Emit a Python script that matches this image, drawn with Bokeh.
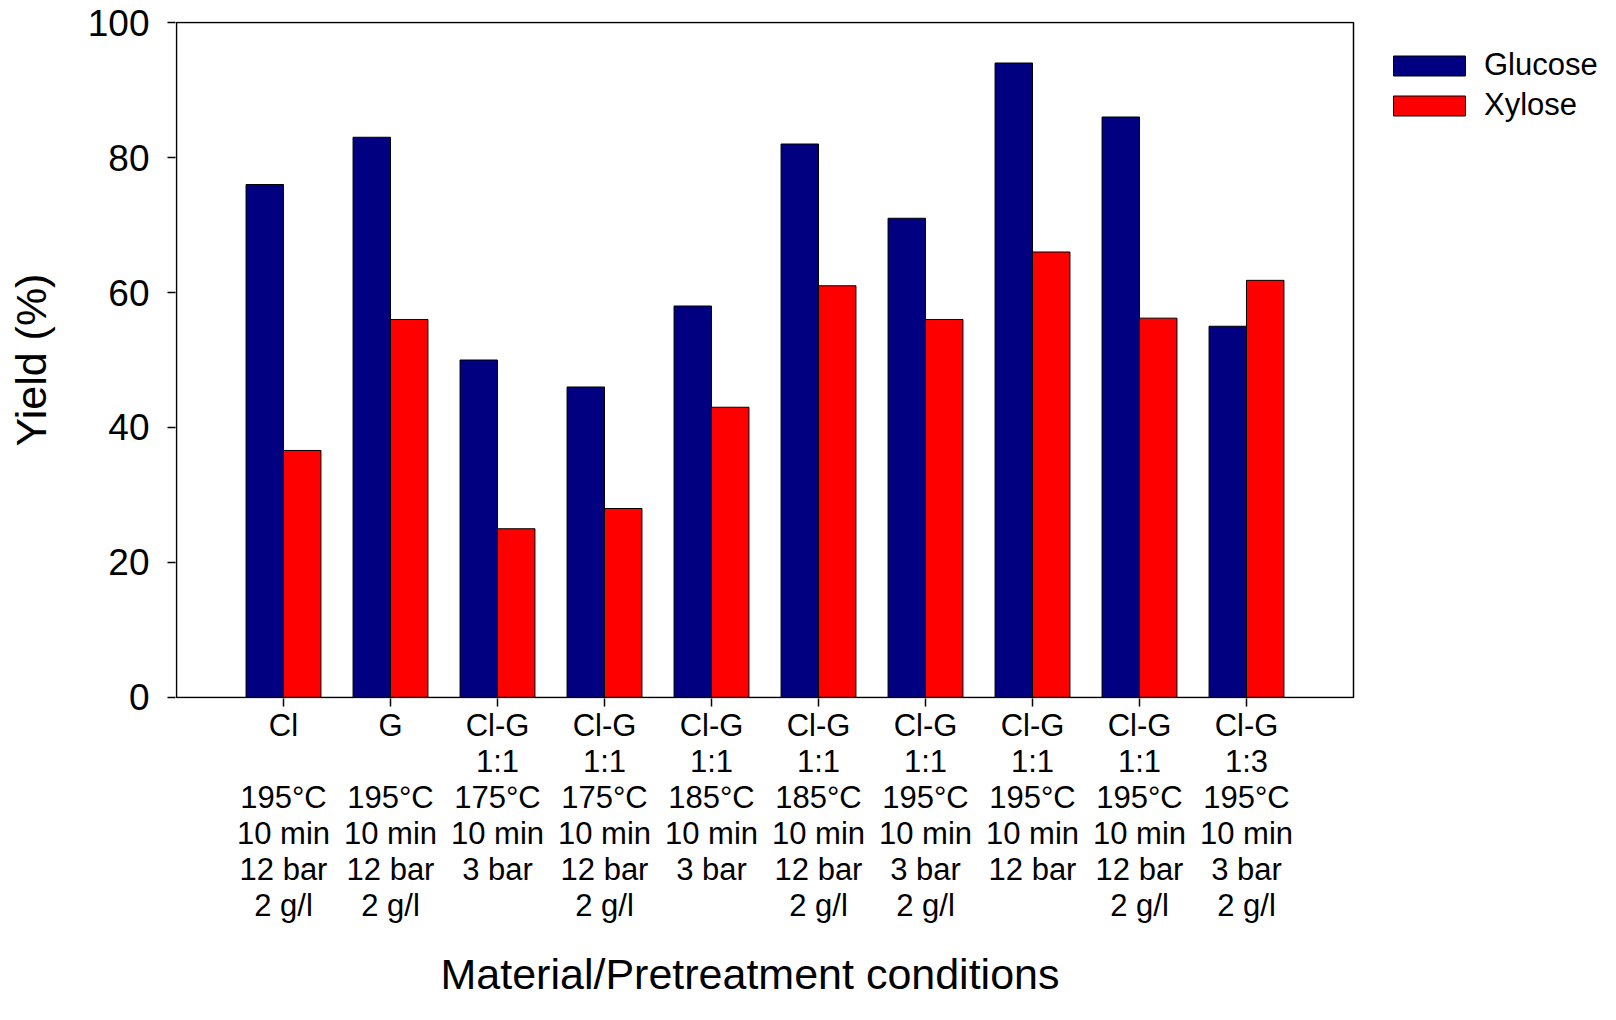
from bokeh.plotting import figure
from bokeh.models import FixedTicker, Legend, LegendItem, ColumnDataSource, Title
from bokeh.embed import file_html
from bokeh.resources import INLINE

categories = [
    "Cl\n \n195°C\n10 min\n12 bar\n2 g/l",
    "G\n \n195°C\n10 min\n12 bar\n2 g/l",
    "Cl-G\n1:1\n175°C\n10 min\n3 bar",
    "Cl-G\n1:1\n175°C\n10 min\n12 bar\n2 g/l",
    "Cl-G\n1:1\n185°C\n10 min\n3 bar",
    "Cl-G\n1:1\n185°C\n10 min\n12 bar\n2 g/l",
    "Cl-G\n1:1\n195°C\n10 min\n3 bar\n2 g/l",
    "Cl-G\n1:1\n195°C\n10 min\n12 bar",
    "Cl-G\n1:1\n195°C\n10 min\n12 bar\n2 g/l",
    "Cl-G\n1:3\n195°C\n10 min\n3 bar\n2 g/l",
]
glucose = [76, 83, 50, 46, 58, 82, 71, 94, 86, 55]
xylose = [36.6, 56, 25, 28, 43, 61, 56, 66, 56.2, 61.8]
y_ticks = [0, 20, 40, 60, 80, 100]
x_title = "Material/Pretreatment conditions"
y_title = "Yield (%)"

FONT = "Liberation Sans"
n = len(categories)
centers = list(range(1, n + 1))
bw = 0.35

# layout: the data box spans 1177 px for n+1 units; the frame extends right to hold the legend
W, H = 1616, 1020
left_b, top_b, bottom_b = 175, 21, 322
frame_w = W - left_b
ppu = 1177 / (n + 1)
x0 = -1 / ppu
x_range = (x0, x0 + frame_w / ppu)
y_range = (-0.15, 100.15)

p = figure(width=W, height=H, output_backend="svg", toolbar_location=None,
           x_range=x_range, y_range=y_range,
           min_border_left=left_b, min_border_right=0, min_border_top=top_b, min_border_bottom=bottom_b)

src_g = ColumnDataSource(dict(x=[c - bw / 2 for c in centers], top=glucose))
src_x = ColumnDataSource(dict(x=[c + bw / 2 for c in centers], top=xylose))
rg = p.vbar(x="x", top="top", width=bw, source=src_g, fill_color="#000080", line_color="black", line_width=1)
rx = p.vbar(x="x", top="top", width=bw, source=src_x, fill_color="#ff0000", line_color="black", line_width=1)

# plot box
p.quad(left=[0], right=[n + 1], bottom=[0], top=[100], fill_color=None, line_color="black", line_width=1.5)

p.xgrid.visible = False
p.ygrid.visible = False
p.outline_line_color = None

xa = p.xaxis[0]
xa.ticker = FixedTicker(ticks=centers)
xa.major_label_overrides = {c: lab for c, lab in zip(centers, categories)}
xa.major_label_text_font = FONT
xa.major_label_text_font_size = "31px"
xa.major_label_text_line_height = 1.03
xa.major_label_text_color = "black"
xa.major_tick_out = 8
xa.major_tick_in = 0
xa.minor_tick_out = 0
xa.minor_tick_in = 0
xa.major_tick_line_width = 1.5
xa.major_label_standoff = 1
xa.axis_line_color = None

ya = p.yaxis[0]
ya.ticker = FixedTicker(ticks=y_ticks)
ya.major_label_text_font = FONT
ya.major_label_text_font_size = "37px"
ya.major_label_text_color = "black"
ya.major_tick_out = 8
ya.major_tick_in = 0
ya.minor_tick_out = 0
ya.minor_tick_in = 0
ya.major_tick_line_width = 1.5
ya.major_label_standoff = 18
ya.axis_line_color = None
ya.axis_label = y_title
ya.axis_label_text_font = FONT
ya.axis_label_text_font_size = "43px"
ya.axis_label_text_font_style = "normal"
ya.axis_label_text_color = "black"
ya.axis_label_standoff = 30

xt = Title(text=x_title, align="left", offset=265, standoff=45, text_line_height=0.8,
           text_font=FONT, text_font_size="43px", text_font_style="normal", text_color="black")
p.add_layout(xt, "below")

legend = Legend(items=[LegendItem(label="Glucose", renderers=[rg]),
                       LegendItem(label="Xylose", renderers=[rx])],
                location=(1209, 575), orientation="vertical",
                glyph_width=90, glyph_height=25, spacing=4, padding=0, margin=0,
                label_text_font=FONT, label_text_font_size="31px", label_standoff=10,
                label_text_color="black",
                border_line_alpha=0, background_fill_alpha=0)
p.add_layout(legend, "center")

open("out.html", "w").write(file_html(p, INLINE))
